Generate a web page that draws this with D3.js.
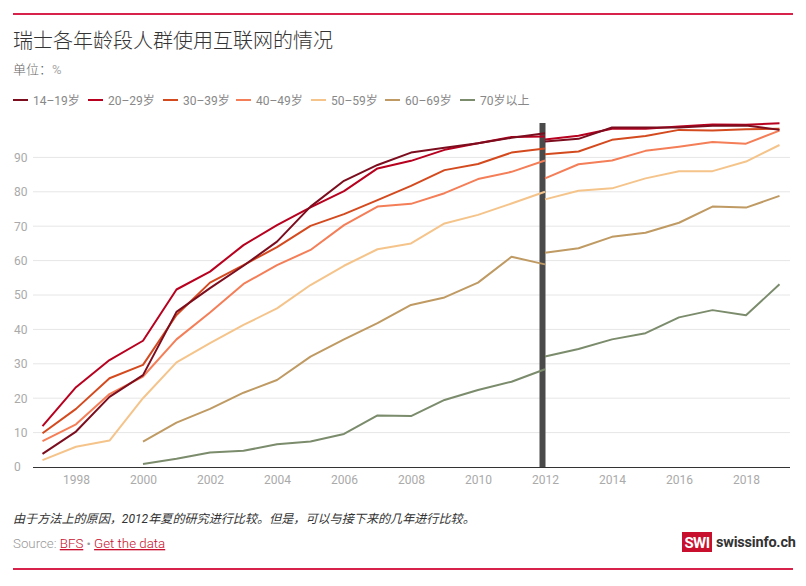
<!DOCTYPE html>
<html><head><meta charset="utf-8">
<script src="https://d3js.org/d3.v7.min.js"></script>
<style>
body{margin:0;background:#fff;}
svg text{font-family:Roboto,"Noto Sans CJK SC",sans-serif;}
</style></head>
<body><svg id="c" width="806" height="586"></svg>
<script>
const yearsOld = d3.range(1997, 2013);
const yearsNew = d3.range(2012, 2020);
const seriesNames = ["14–19岁","20–29岁","30–39岁","40–49岁","50–59岁","60–69岁","70岁以上"];
const colors = ["#7b0d1e","#b8001f","#d44a1f","#f47e57","#f5c48b","#bf9a63","#7b8c6c"];
// 1997..2012 (old method)
const s1419Old = [3.8,10.3,20.4,26.7,45.1,52.0,58.5,65.5,75.7,83.2,87.8,91.4,92.8,94.1,95.7,97.0];
const s2029Old = [11.9,23.2,31.1,36.7,51.6,56.8,64.5,70.3,75.5,80.2,86.8,89.0,92.2,94.1,95.9,96.1];
const s3039Old = [9.8,16.9,25.8,29.7,44.2,53.6,58.7,63.9,70.1,73.5,77.6,81.7,86.3,88.1,91.4,92.6];
const s4049Old = [7.5,12.4,21.2,26.3,37.1,44.9,53.2,58.7,63.1,70.3,75.7,76.5,79.6,83.7,85.8,89.1];
const s5059Old = [2.0,5.9,7.7,20.0,30.4,36.0,41.3,46.1,52.9,58.5,63.3,65.0,70.8,73.3,76.6,80.0];
const s6069Old = [null,null,null,7.4,12.9,16.9,21.6,25.3,32.1,37.1,41.8,47.1,49.3,53.6,61.1,58.9];
const s70Old   = [null,null,null,0.9,2.4,4.2,4.7,6.6,7.4,9.6,15.0,14.8,19.5,22.4,24.8,28.4];
// 2012..2019 (new method)
const s1419New = [94.6,95.4,98.7,98.7,98.7,99.2,99.3,98.0];
const s2029New = [95.2,96.3,98.3,98.3,99.0,99.6,99.5,99.9];
const s3039New = [90.9,91.7,95.1,96.2,98.0,97.8,98.2,98.3];
const s4049New = [83.9,88.0,89.1,91.9,93.1,94.5,94.0,97.8];
const s5059New = [77.8,80.3,81.0,83.9,86.0,86.0,88.8,93.6];
const s6069New = [62.3,63.6,66.9,68.1,71.0,75.7,75.4,78.8];
const s70New   = [32.1,34.3,37.1,38.9,43.5,45.6,44.1,53.1];
const yTicks = [0,10,20,30,40,50,60,70,80,90];
const xTicks = [1998,2000,2002,2004,2006,2008,2010,2012,2014,2016,2018];
const breakYear = 2012;

const oldVals = [s1419Old,s2029Old,s3039Old,s4049Old,s5059Old,s6069Old,s70Old];
const newVals = [s1419New,s2029New,s3039New,s4049New,s5059New,s6069New,s70New];

const svg = d3.select("#c");
const red = "#d7234b";
svg.append("rect").attr("x",13).attr("y",13).attr("width",780).attr("height",2).attr("fill",red);
svg.append("rect").attr("x",13).attr("y",568).attr("width",780).attr("height",2).attr("fill",red);

svg.append("text").attr("x",13).attr("y",48).attr("font-size",20).attr("fill","#333")
  .attr("font-family","'Noto Sans CJK SC',sans-serif").attr("font-weight",300).text("瑞士各年龄段人群使用互联网的情况");
const sub = svg.append("text").attr("x",13).attr("y",74).attr("font-size",13);
sub.append("tspan").attr("fill","#666").attr("font-weight",300).attr("font-family","'Noto Sans CJK SC',sans-serif").text("单位：");
sub.append("tspan").attr("fill","#aaa").text("%");

// legend
const legX = [13,88,163,236,311,385,460];
seriesNames.forEach((n,i)=>{
  const g = svg.append("g").attr("transform",`translate(${legX[i]},100)`);
  g.append("line").attr("x1",0).attr("x2",15).attr("y1",0).attr("y2",0).attr("stroke",colors[i]).attr("stroke-width",2);
  g.append("text").attr("x",20).attr("y",4.5).attr("font-size",12).attr("fill","#888").text(n);
});

const x = d3.scaleLinear().domain([1997,2019]).range([42.5,779.5]);
const y = d3.scaleLinear().domain([0,100]).range([467,123]);
const left = 33, right = 790;

// grid
const grid = svg.append("g");
yTicks.filter(t=>t>0).forEach(t=>{
  grid.append("line").attr("x1",left).attr("x2",right).attr("y1",y(t)).attr("y2",y(t))
    .attr("stroke","#e6e6e6").attr("stroke-width",1);
});
const yAx = svg.append("g").attr("transform",`translate(${left-19},0)`)
  .call(d3.axisLeft(y).tickValues(yTicks).tickSize(0).tickPadding(0));
yAx.select(".domain").remove();
yAx.selectAll("text").attr("text-anchor","start").attr("font-size",12).attr("fill","#aaa").attr("font-family","Roboto,sans-serif");

// break bar
svg.append("rect").attr("x",x(breakYear)-5.5).attr("width",6).attr("y",y(100)).attr("height",y(0)-y(100)).attr("fill","#4a4a4a");

const line = d3.line().defined(d=>d[1]!=null).x(d=>x(d[0])).y(d=>y(d[1]));
const lines = svg.append("g").attr("fill","none").attr("stroke-width",2).attr("stroke-linejoin","round");
for(let i=seriesNames.length-1;i>=0;i--){
  lines.append("path").attr("d",line(yearsOld.map((yr,k)=>[yr,oldVals[i][k]]))).attr("stroke",colors[i]);
  lines.append("path").attr("d",line(yearsNew.map((yr,k)=>[yr,newVals[i][k]]))).attr("stroke",colors[i]);
}

// x axis
const xAx = svg.append("g").attr("transform",`translate(0,${y(0)})`)
  .call(d3.axisBottom(x).tickValues(xTicks).tickFormat(d3.format("d")).tickSize(0).tickPadding(8));
xAx.select(".domain").remove();
xAx.selectAll("text").attr("font-size",12).attr("fill","#aaa").attr("font-family","Roboto,sans-serif");
svg.append("line").attr("x1",left).attr("x2",right).attr("y1",y(0)+0.5).attr("y2",y(0)+0.5).attr("stroke","#333").attr("stroke-width",1);

// footer
svg.append("text").attr("x",13).attr("y",523).attr("font-size",12.1).attr("fill","#333").attr("font-style","italic")
  .attr("font-family","'Noto Sans CJK SC',sans-serif")
  .text("由于方法上的原因，2012年夏的研究进行比较。但是，可以与接下来的几年进行比较。");
const src = svg.append("text").attr("x",13).attr("y",548).attr("font-size",13.3).attr("fill","#999").attr("font-weight",300);
src.append("tspan").text("Source: ");
src.append("tspan").attr("fill","#c8102e").attr("text-decoration","underline").text("BFS");
src.append("tspan").text(" • ");
src.append("tspan").attr("fill","#c8102e").attr("text-decoration","underline").text("Get the data");

svg.append("rect").attr("x",682).attr("y",532).attr("width",30).attr("height",20).attr("fill","#c8102e");
svg.append("text").attr("x",697).attr("y",547.5).attr("text-anchor","middle").attr("font-size",15).attr("font-weight",700)
  .attr("fill","#fff").attr("font-family","Roboto,sans-serif").attr("letter-spacing",-0.5).text("SWI");
svg.append("text").attr("x",716).attr("y",547).attr("font-size",14.5).attr("font-weight",700).attr("fill","#333")
  .attr("letter-spacing",-0.2).text("swissinfo.ch");
</script></body></html>
